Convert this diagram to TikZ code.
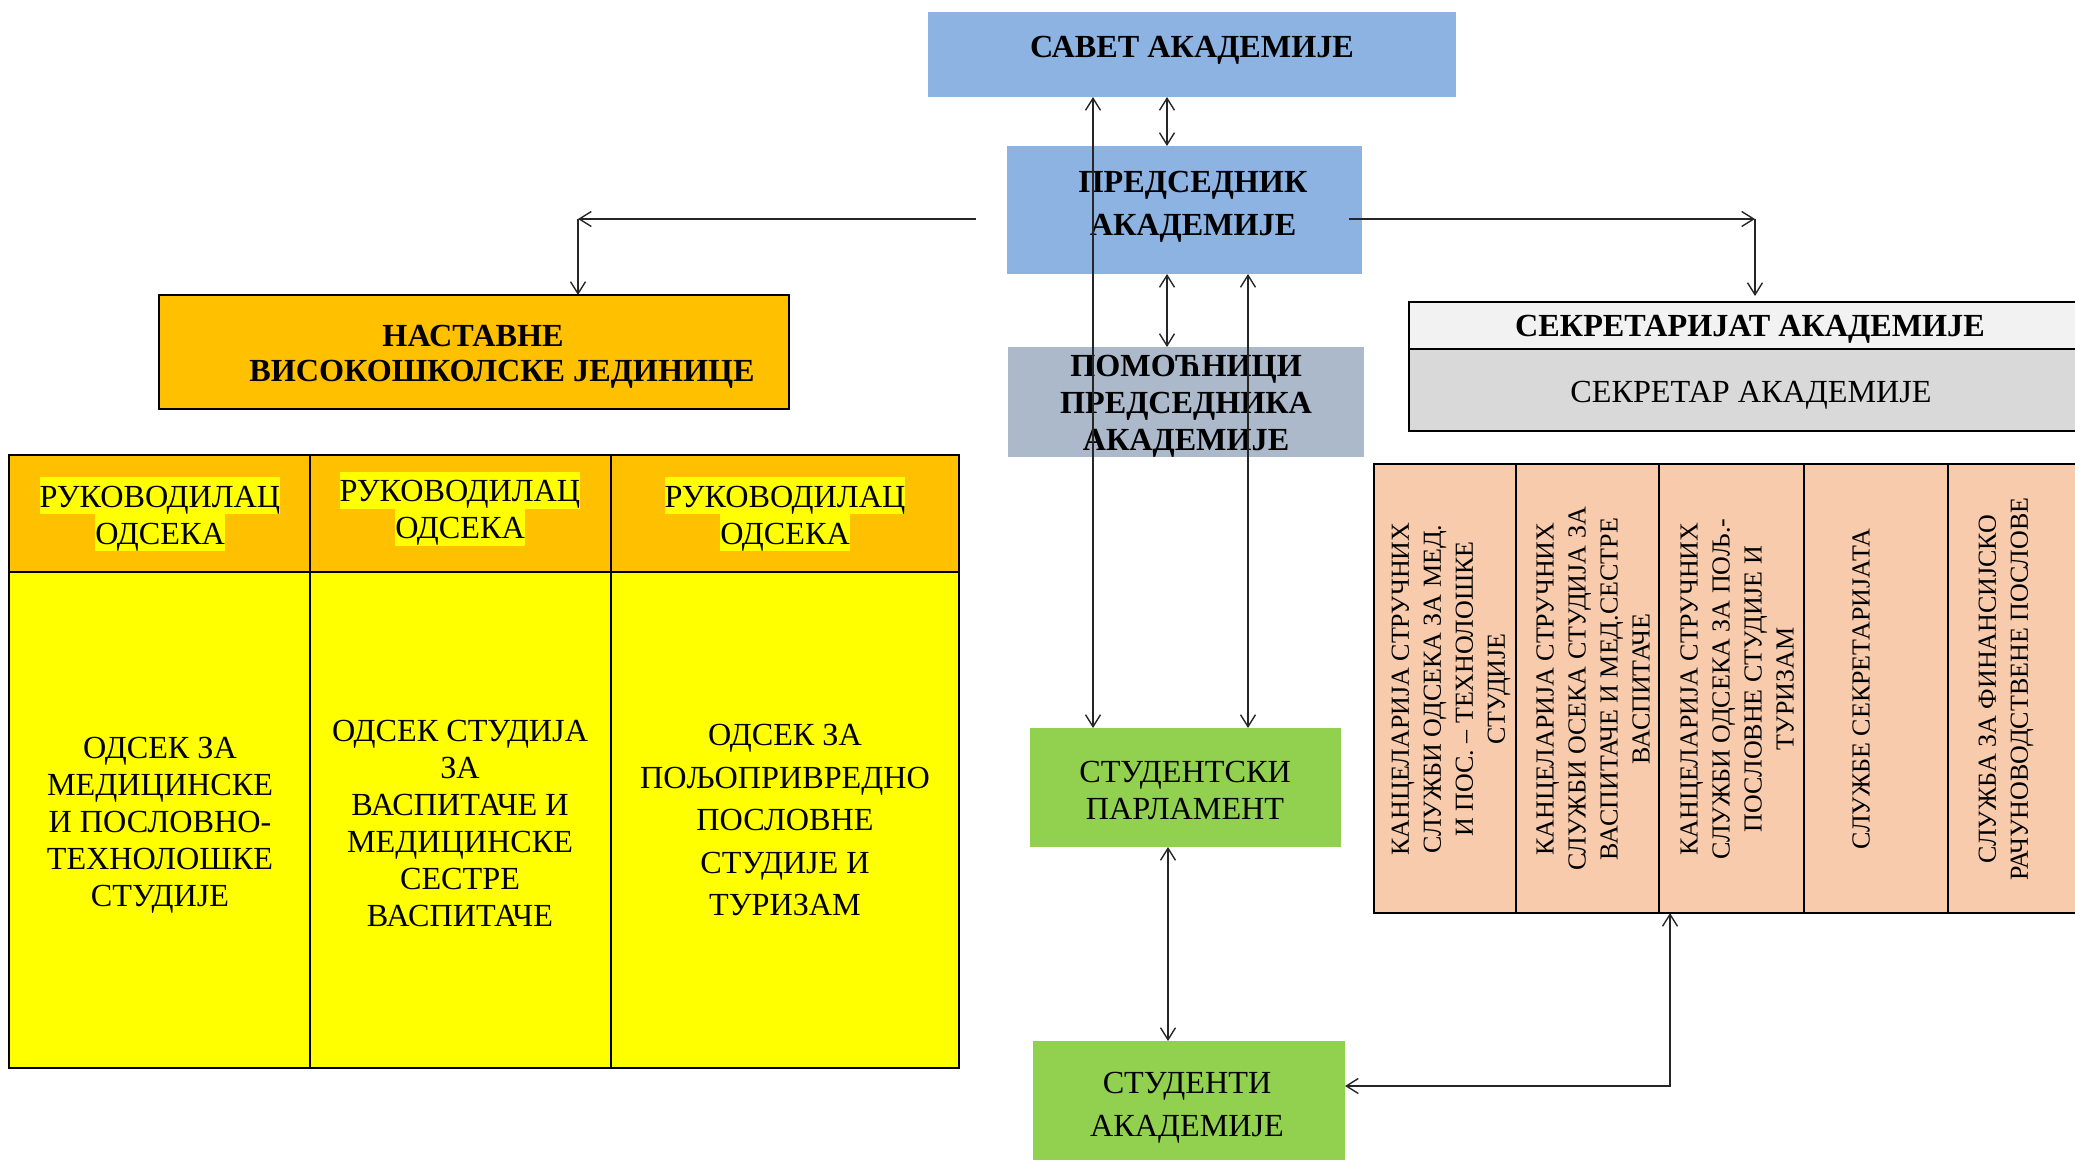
\documentclass[tikz,border=0pt]{standalone}
\usepackage{fontspec}
\setmainfont{Liberation Serif}
\usetikzlibrary{arrows.meta,fit}
\definecolor{blueA}{HTML}{8DB3E2}
\definecolor{grayA}{HTML}{ACB9CA}
\definecolor{orangeA}{HTML}{FFC000}
\definecolor{yellowA}{HTML}{FFFF00}
\definecolor{greenA}{HTML}{92D050}
\definecolor{lightA}{HTML}{F2F2F2}
\definecolor{lightB}{HTML}{D9D9D9}
\definecolor{pinkA}{HTML}{F7CBAC}
\newcommand\mfs{\fontsize{16.1pt}{18.5pt}\selectfont}
\begin{document}
\begin{tikzpicture}[x=0.5pt,y=-0.5pt,
  area/.style={inner sep=0pt, outer sep=0pt},
  frame/.style={area, draw=black, line width=1.2pt},
  txt/.style={inner sep=0pt, font=\mfs, align=center},
  btxt/.style={inner sep=0pt, font=\mfs\bfseries, align=center},
  capline/.style={text height=10.65pt, text depth=0pt},
  vtxt/.style={inner sep=0pt, rotate=90, align=center, font=\fontsize{13pt}{16pt}\selectfont},
  hl/.style={inner xsep=0pt, inner ysep=0pt, text height=15pt, text depth=3.5pt, fill=yellowA, font=\mfs},
  conn/.style={line width=0.7pt, draw=black!85, {Straight Barb[length=6pt,width=7.5pt]}-{Straight Barb[length=6pt,width=7.5pt]}},
  conto/.style={line width=0.7pt, draw=black!85, -{Straight Barb[length=6pt,width=7.5pt]}}
]
\useasboundingbox (0,0) rectangle (2075,1160);
\clip (0,0) rectangle (2075,1160);

% top blue boxes
\node[area, fill=blueA, fit={(928,12) (1456,97)}] (savet) {};
\node[btxt, capline] (savetT) at (1192,47) {САВЕТ АКАДЕМИЈЕ};
\node[area, fill=blueA, fit={(1007,146) (1362,274)}] (pred) {};
\node[btxt, font=\fontsize{16.1pt}{21.5pt}\selectfont\bfseries] (predT) at (1193,207) {ПРЕДСЕДНИК\\АКАДЕМИЈЕ};
\node[area, fill=grayA, fit={(1008,347) (1364,457)}] (pom) {};
\node[btxt] (pomT) at (1186,406) {ПОМОЋНИЦИ\\ПРЕДСЕДНИКА\\АКАДЕМИЈЕ};

% teaching units
\node[frame, fill=orangeA, fit={(159,295) (789,409)}] (nast) {};
\node[btxt, capline] (nastT1) at (473,336) {НАСТАВНЕ};
\node[btxt, capline] (nastT2) at (502,371) {ВИСОКОШКОЛСКЕ ЈЕДИНИЦЕ};

% left table
\node[frame, fill=orangeA, fit={(9,455) (310,572)}] (h1) {};
\node[frame, fill=orangeA, fit={(310,455) (611,572)}] (h2) {};
\node[frame, fill=orangeA, fit={(611,455) (959,572)}] (h3) {};
\node[frame, fill=yellowA, fit={(9,572) (310,1068)}] (b1) {};
\node[frame, fill=yellowA, fit={(310,572) (611,1068)}] (b2) {};
\node[frame, fill=yellowA, fit={(611,572) (959,1068)}] (b3) {};
\node[hl] (h1a) at (160,495.5) {РУКОВОДИЛАЦ};
\node[hl] (h1b) at (160,532.5) {ОДСЕКА};
\node[hl] (h2a) at (460,490) {РУКОВОДИЛАЦ};
\node[hl] (h2b) at (460,527) {ОДСЕКА};
\node[hl] (h3a) at (785,495.5) {РУКОВОДИЛАЦ};
\node[hl] (h3b) at (785,532.5) {ОДСЕКА};
\node[txt] (b1T) at (160,825) {ОДСЕК ЗА\\МЕДИЦИНСКЕ\\И ПОСЛОВНО-\\ТЕХНОЛОШКЕ\\СТУДИЈЕ};
\node[txt] (b2T) at (460,823) {ОДСЕК СТУДИЈА\\ЗА\\ВАСПИТАЧЕ И\\МЕДИЦИНСКЕ\\СЕСТРЕ\\ВАСПИТАЧЕ};
\node[txt, font=\fontsize{16.1pt}{21.25pt}\selectfont] (b3T) at (785,820) {ОДСЕК ЗА\\ПОЉОПРИВРЕДНО\\ПОСЛОВНЕ\\СТУДИЈЕ И\\ТУРИЗАМ};

% students
\node[area, fill=greenA, fit={(1030,728) (1341,847)}] (parl) {};
\node[txt] (parlT) at (1185,790) {СТУДЕНТСКИ\\ПАРЛАМЕНТ};
\node[area, fill=greenA, fit={(1033,1041) (1345,1165)}] (stud) {};
\node[txt, font=\fontsize{16.1pt}{21.5pt}\selectfont] (studT) at (1187,1108) {СТУДЕНТИ\\АКАДЕМИЈЕ};

% secretariat
\node[frame, fill=lightA, fit={(1409,302) (2091,349)}] (sekH) {};
\node[frame, fill=lightB, fit={(1409,349) (2091,431)}] (sek) {};
\node[btxt, capline] (sekHT) at (1750,325.5) {СЕКРЕТАРИЈАТ АКАДЕМИЈЕ};
\node[txt, capline] (sekT) at (1751,392) {СЕКРЕТАР АКАДЕМИЈЕ};

% services table
\node[frame, fill=pinkA, fit={(1374,464) (1516,913)}] (p1) {};
\node[frame, fill=pinkA, fit={(1516,464) (1659,913)}] (p2) {};
\node[frame, fill=pinkA, fit={(1659,464) (1804,913)}] (p3) {};
\node[frame, fill=pinkA, fit={(1804,464) (1948,913)}] (p4) {};
\node[frame, fill=pinkA, fit={(1948,464) (2091,913)}] (p5) {};
\node[vtxt] (p1T) at (1451,689) {КАНЦЕЛАРИЈА СТРУЧНИХ\\СЛУЖБИ ОДСЕКА ЗА МЕД.\\И ПОС. – ТЕХНОЛОШКЕ\\СТУДИЈЕ};
\node[vtxt] (p2T) at (1593,689) {КАНЦЕЛАРИЈА СТРУЧНИХ\\СЛУЖБИ ОСЕКА СТУДИЈА ЗА\\ВАСПИТАЧЕ И МЕД.СЕСТРЕ\\ВАСПИТАЧЕ};
\node[vtxt] (p3T) at (1737,689) {КАНЦЕЛАРИЈА СТРУЧНИХ\\СЛУЖБИ ОДСЕКА ЗА ПОЉ.-\\ПОСЛОВНЕ СТУДИЈЕ И\\ТУРИЗАМ};
\node[vtxt] (p4T) at (1861,689) {СЛУЖБЕ СЕКРЕТАРИЈАТА};
\node[vtxt] (p5T) at (2006,689) {СЛУЖБА ЗА ФИНАНСИЈСКО\\РАЧУНОВОДСТВЕНЕ ПОСЛОВЕ};

% connectors
\coordinate (xL) at (1093,0);
\coordinate (xM) at (1167,0);
\coordinate (xR) at (1248,0);
\coordinate (xS) at (1168,0);
\draw[conn] (savet.south -| xL) -- (parl.north -| xL);
\draw[conn] (savet.south -| xM) -- (pred.north -| xM);
\draw[conn] (pred.south -| xM) -- (pom.north -| xM);
\draw[conn] (pred.south -| xR) -- (parl.north -| xR);
\draw[conn] (parl.south -| xS) -- (stud.north -| xS);

\coordinate (pl) at (976,219);
\coordinate (cl) at (578,219);
\draw[conto] (pl) -- (cl);
\draw[conto] (cl) -- (nast.north -| cl);
\coordinate (pr) at (1349,219);
\coordinate (cr) at (1755,219);
\draw[conto] (pr) -- (cr);
\draw[conto, shorten >=3pt] (cr) -- (sekH.north -| cr);

\coordinate (c6) at (1670,1086);
\draw[conn] (p3.south -| c6) -- (c6) -- (stud.east |- c6);
\end{tikzpicture}
\end{document}
